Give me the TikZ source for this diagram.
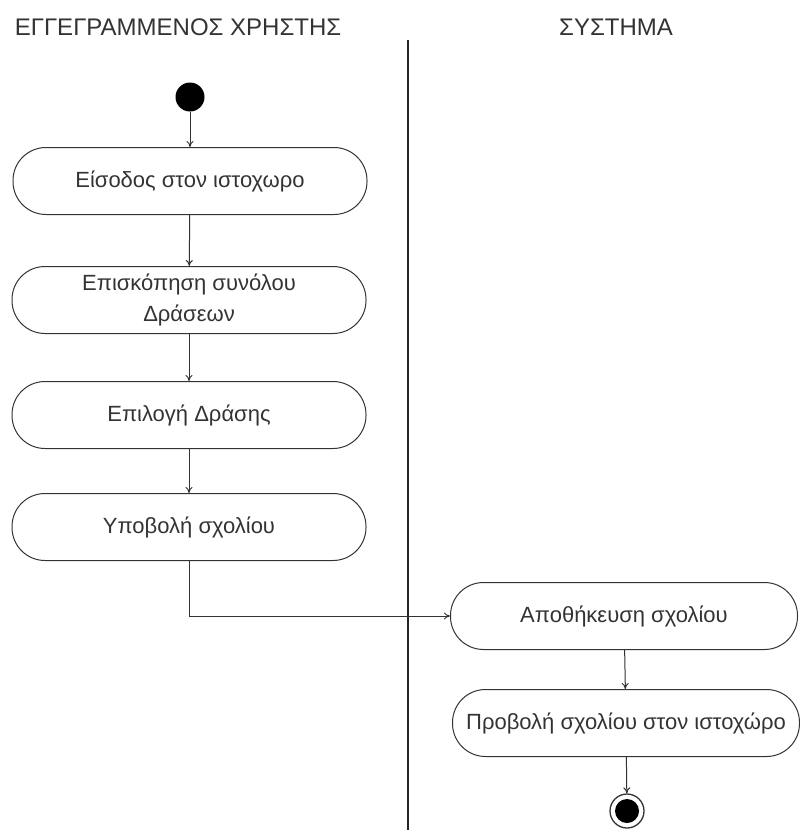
\documentclass[tikz,border=0pt]{standalone}
\usepackage{fontspec}
\setmainfont{Liberation Sans}
\usetikzlibrary{arrows.meta}
\begin{document}
\begin{tikzpicture}[x=1pt,y=-1pt,
  ink/.style={draw=black!80, line width=1pt},
  action/.style={ink, rounded corners=33pt, minimum height=67pt,
    minimum width=354pt, align=center, inner sep=0pt,
    font=\fontsize{22}{31}\selectfont, text=black!80},
  lane/.style={font=\fontsize{24}{28}\selectfont, text=black!80},
  flow/.style={ink, -{To[length=6pt,width=7pt]}}]
\useasboundingbox (0,0) rectangle (800,836);

% swimlane headers and separator
\node[lane] (hdrUser) at (178,27) {ΕΓΓΕΓΡΑΜΜΕΝΟΣ ΧΡΗΣΤΗΣ};
\node[lane] (hdrSys) at (616,27) {ΣΥΣΤΗΜΑ};
\coordinate (sepTop) at (408,40);
\coordinate (sepBot) at (408,830);
\draw[line width=1.2pt, black!85] (sepTop) -- (sepBot);

% start state
\node[circle, fill=black, minimum size=29pt, inner sep=0pt] (start) at (190,97) {};

% user activities
\node[action] (login) at (190,181) {Είσοδος στον ιστοχωρο};
\node[action] (browse) at (189,300) {Επισκόπηση συνόλου\\Δράσεων};
\node[action] (pick) at (189,415) {Επιλογή Δράσης};
\node[action] (submit) at (189,527) {Υποβολή σχολίου};

% system activities
\node[action, minimum width=347pt] (store) at (624,616) {Αποθήκευση σχολίου};
\node[action, minimum width=347pt] (show) at (626,723) {Προβολή σχολίου στον ιστοχώρο};

% final state
\node[circle, ink, line width=1.3pt, minimum size=34pt, inner sep=0pt] (final) at (627,811) {};
\node[circle, fill=black, minimum size=24pt, inner sep=0pt] (finalDot) at (final.center) {};

% transitions
\draw[flow] (start) -- (login);
\draw[flow] (login) -- (browse);
\draw[flow] (browse) -- (pick);
\draw[flow] (pick) -- (submit);
\draw[flow] (submit.south) |- (store.west);
\draw[flow] (store) -- (show);
\draw[flow] (show) -- (final);
\end{tikzpicture}
\end{document}
